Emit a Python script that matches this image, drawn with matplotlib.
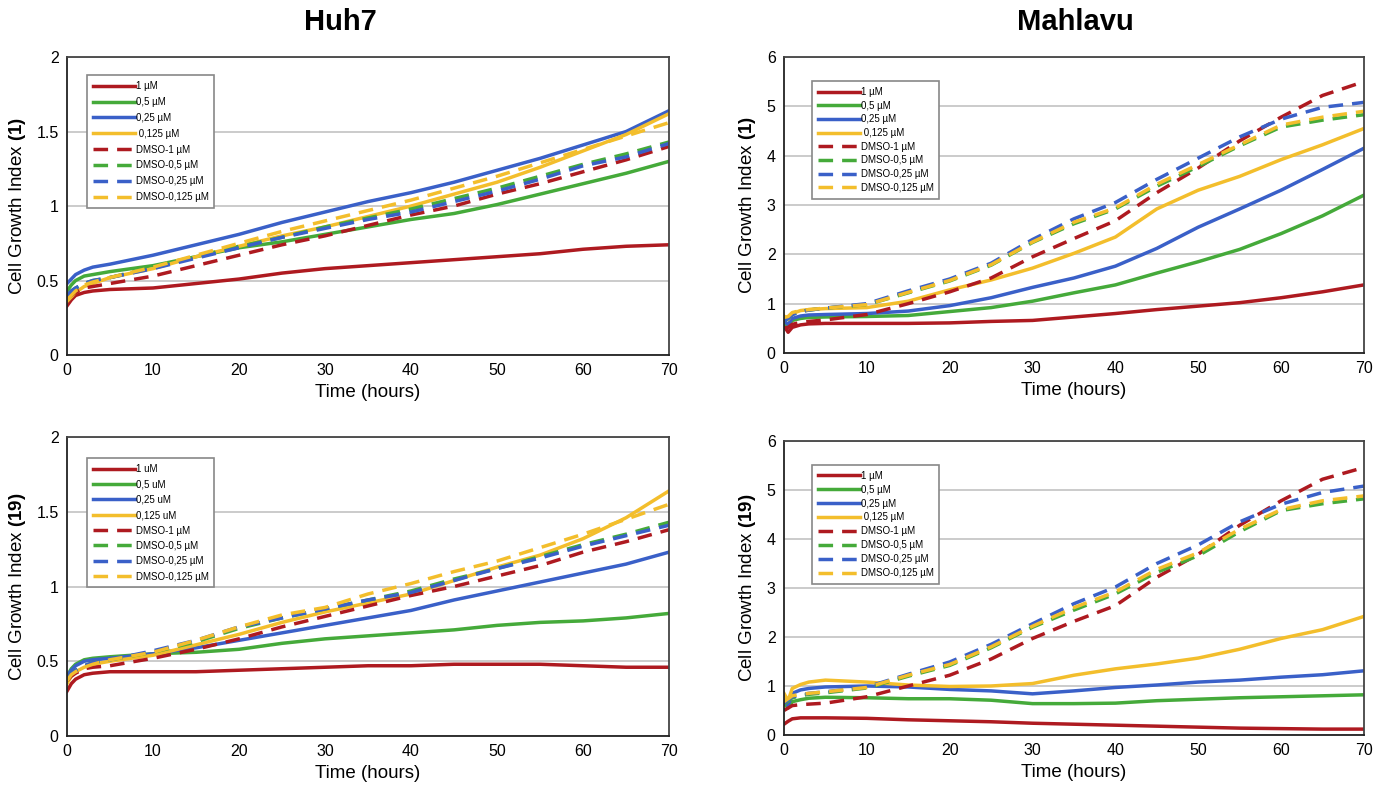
import matplotlib
matplotlib.use('Agg')
import matplotlib.pyplot as plt

plt.rcParams['font.family'] = ['Liberation Sans', 'DejaVu Sans']
plt.rcParams['mathtext.fontset'] = 'custom'
plt.rcParams['mathtext.bf'] = 'Liberation Sans:bold'
plt.rcParams['mathtext.rm'] = 'Liberation Sans'

time = [0, 0.5, 1, 2, 3, 5, 10, 15, 20, 25, 30, 35, 40, 45, 50, 55, 60, 65, 70]

# Huh7, compound (1)
h1_1 = [0.33, 0.37, 0.40, 0.42, 0.43, 0.44, 0.45, 0.48, 0.51, 0.55, 0.58, 0.60, 0.62, 0.64, 0.66, 0.68, 0.71, 0.73, 0.74]
h1_05 = [0.43, 0.47, 0.50, 0.53, 0.54, 0.56, 0.60, 0.66, 0.72, 0.76, 0.81, 0.86, 0.91, 0.95, 1.01, 1.08, 1.15, 1.22, 1.30]
h1_025 = [0.48, 0.51, 0.54, 0.57, 0.59, 0.61, 0.67, 0.74, 0.81, 0.89, 0.96, 1.03, 1.09, 1.16, 1.24, 1.32, 1.41, 1.50, 1.64]
h1_0125 = [0.36, 0.39, 0.42, 0.46, 0.48, 0.52, 0.58, 0.66, 0.73, 0.80, 0.86, 0.93, 1.00, 1.08, 1.16, 1.26, 1.37, 1.48, 1.62]
h1_d1 = [0.38, 0.40, 0.42, 0.45, 0.46, 0.48, 0.53, 0.60, 0.67, 0.74, 0.80, 0.87, 0.94, 1.00, 1.08, 1.15, 1.23, 1.31, 1.40]
h1_d05 = [0.40, 0.43, 0.45, 0.48, 0.50, 0.52, 0.59, 0.66, 0.73, 0.79, 0.86, 0.92, 0.98, 1.05, 1.12, 1.20, 1.28, 1.35, 1.43]
h1_d025 = [0.40, 0.43, 0.45, 0.48, 0.50, 0.52, 0.58, 0.65, 0.72, 0.79, 0.85, 0.91, 0.96, 1.03, 1.10, 1.18, 1.27, 1.33, 1.42]
h1_d0125 = [0.37, 0.40, 0.43, 0.47, 0.49, 0.52, 0.59, 0.67, 0.75, 0.83, 0.90, 0.97, 1.04, 1.12, 1.20, 1.29, 1.38, 1.47, 1.56]

# Mahlavu, compound (1)
m1_1 = [0.55, 0.42, 0.52, 0.57, 0.59, 0.60, 0.60, 0.60, 0.61, 0.64, 0.66, 0.73, 0.80, 0.88, 0.95, 1.02, 1.12, 1.24, 1.38]
m1_05 = [0.62, 0.55, 0.66, 0.70, 0.72, 0.73, 0.74, 0.76, 0.84, 0.92, 1.05, 1.22, 1.38, 1.62, 1.85, 2.10, 2.42, 2.78, 3.20]
m1_025 = [0.65, 0.58, 0.70, 0.75, 0.77, 0.78, 0.80, 0.85, 0.96, 1.12, 1.33, 1.52, 1.76, 2.12, 2.55, 2.92, 3.30, 3.72, 4.15]
m1_0125 = [0.75, 0.68, 0.80, 0.86, 0.88, 0.90, 0.92, 1.05, 1.28, 1.48, 1.72, 2.02, 2.35, 2.92, 3.30, 3.58, 3.92, 4.22, 4.55]
m1_d1 = [0.50, 0.52, 0.58, 0.62, 0.64, 0.67, 0.78, 1.00, 1.24, 1.52, 1.95, 2.32, 2.68, 3.25, 3.75, 4.30, 4.78, 5.22, 5.50]
m1_d05 = [0.65, 0.70, 0.78, 0.84, 0.87, 0.91, 0.98, 1.22, 1.46, 1.78, 2.24, 2.62, 2.92, 3.38, 3.78, 4.20, 4.58, 4.72, 4.83]
m1_d025 = [0.65, 0.70, 0.78, 0.84, 0.87, 0.91, 1.00, 1.26, 1.50, 1.82, 2.30, 2.72, 3.05, 3.52, 3.95, 4.38, 4.74, 4.98, 5.08]
m1_d0125 = [0.72, 0.74, 0.82, 0.86, 0.88, 0.91, 0.98, 1.23, 1.47, 1.79, 2.25, 2.65, 2.94, 3.42, 3.82, 4.22, 4.62, 4.78, 4.90]

# Huh7, compound (19)
h19_1 = [0.30, 0.35, 0.38, 0.41, 0.42, 0.43, 0.43, 0.43, 0.44, 0.45, 0.46, 0.47, 0.47, 0.48, 0.48, 0.48, 0.47, 0.46, 0.46]
h19_05 = [0.40, 0.45, 0.48, 0.51, 0.52, 0.53, 0.55, 0.56, 0.58, 0.62, 0.65, 0.67, 0.69, 0.71, 0.74, 0.76, 0.77, 0.79, 0.82]
h19_025 = [0.40, 0.44, 0.47, 0.50, 0.51, 0.52, 0.55, 0.59, 0.64, 0.69, 0.74, 0.79, 0.84, 0.91, 0.97, 1.03, 1.09, 1.15, 1.23]
h19_0125 = [0.35, 0.40, 0.43, 0.46, 0.48, 0.50, 0.54, 0.61, 0.68, 0.76, 0.83, 0.89, 0.95, 1.04, 1.13, 1.21, 1.32, 1.46, 1.64]
h19_d1 = [0.37, 0.40, 0.42, 0.45, 0.46, 0.47, 0.52, 0.58, 0.65, 0.73, 0.80, 0.87, 0.94, 1.00, 1.07, 1.14, 1.23, 1.30, 1.38]
h19_d05 = [0.38, 0.42, 0.44, 0.47, 0.49, 0.51, 0.56, 0.63, 0.72, 0.79, 0.85, 0.91, 0.97, 1.05, 1.12, 1.20, 1.28, 1.35, 1.43]
h19_d025 = [0.38, 0.42, 0.44, 0.47, 0.49, 0.51, 0.57, 0.64, 0.73, 0.79, 0.85, 0.91, 0.96, 1.04, 1.12, 1.19, 1.27, 1.34, 1.41]
h19_d0125 = [0.37, 0.41, 0.43, 0.46, 0.48, 0.51, 0.56, 0.64, 0.73, 0.81, 0.86, 0.95, 1.02, 1.10, 1.17, 1.26, 1.35, 1.45, 1.55]

# Mahlavu, compound (19)
m19_1 = [0.22, 0.28, 0.33, 0.35, 0.35, 0.35, 0.34, 0.31, 0.29, 0.27, 0.24, 0.22, 0.20, 0.18, 0.16, 0.14, 0.13, 0.12, 0.12]
m19_05 = [0.65, 0.55, 0.68, 0.72, 0.75, 0.77, 0.76, 0.74, 0.74, 0.71, 0.64, 0.64, 0.65, 0.70, 0.73, 0.76, 0.78, 0.80, 0.82]
m19_025 = [0.70, 0.60, 0.85, 0.92, 0.95, 0.98, 1.00, 0.98, 0.93, 0.90, 0.84, 0.90, 0.97, 1.02, 1.08, 1.12, 1.18, 1.23, 1.31]
m19_0125 = [0.85, 0.70, 0.95, 1.03, 1.08, 1.12, 1.08, 1.02, 0.99, 1.00, 1.05, 1.22, 1.35, 1.45, 1.57, 1.75, 1.97, 2.15, 2.42]
m19_d1 = [0.50, 0.55, 0.60, 0.62, 0.63, 0.65, 0.78, 1.00, 1.22, 1.55, 1.97, 2.32, 2.64, 3.22, 3.69, 4.28, 4.78, 5.22, 5.46]
m19_d05 = [0.62, 0.70, 0.76, 0.80, 0.83, 0.86, 0.96, 1.20, 1.42, 1.78, 2.20, 2.55, 2.88, 3.32, 3.66, 4.15, 4.58, 4.72, 4.82]
m19_d025 = [0.65, 0.72, 0.78, 0.82, 0.85, 0.88, 0.98, 1.24, 1.49, 1.85, 2.27, 2.68, 3.02, 3.50, 3.88, 4.35, 4.71, 4.95, 5.08]
m19_d0125 = [0.68, 0.74, 0.80, 0.83, 0.85, 0.88, 0.97, 1.22, 1.44, 1.80, 2.22, 2.60, 2.92, 3.38, 3.72, 4.20, 4.60, 4.78, 4.88]

labels_mu = ['1 µM', '0,5 µM', '0,25 µM', ' 0,125 µM',
             'DMSO-1 µM', 'DMSO-0,5 µM', 'DMSO-0,25 µM', 'DMSO-0,125 µM']
labels_u = ['1 uM', '0,5 uM', '0,25 uM', '0,125 uM',
            'DMSO-1 µM', 'DMSO-0,5 µM', 'DMSO-0,25 µM', 'DMSO-0,125 µM']

colors = ['#AE1A20', '#45AA3A', '#3A60C8', '#F3BE2C'] * 2
styles = ['-'] * 4 + ['--'] * 4

fig = plt.figure(figsize=(13.73, 7.86), dpi=100)

panels = [
    # rect, series, ymax, yticks, ylabel tag, labels, legend anchor, spacing
    ([0.0488, 0.5483, 0.4385, 0.3791],
     [h1_1, h1_05, h1_025, h1_0125, h1_d1, h1_d05, h1_d025, h1_d0125],
     2, [0, 0.5, 1, 1.5, 2], '(1)', labels_mu, (0.025, 0.955), 0.6),
    ([0.5710, 0.5509, 0.4224, 0.3766],
     [m1_1, m1_05, m1_025, m1_0125, m1_d1, m1_d05, m1_d025, m1_d0125],
     6, [0, 1, 2, 3, 4, 5, 6], '(1)', labels_mu, (0.04, 0.935), 0.38),
    ([0.0488, 0.0636, 0.4385, 0.3804],
     [h19_1, h19_05, h19_025, h19_0125, h19_d1, h19_d05, h19_d025, h19_d0125],
     2, [0, 0.5, 1, 1.5, 2], '(19)', labels_u, (0.025, 0.945), 0.55),
    ([0.5710, 0.0649, 0.4224, 0.3740],
     [m19_1, m19_05, m19_025, m19_0125, m19_d1, m19_d05, m19_d025, m19_d0125],
     6, [0, 1, 2, 3, 4, 5, 6], '(19)', labels_mu, (0.04, 0.935), 0.4),
]

for rect, series, ymax, yticks, tag, labels, anchor, spacing in panels:
    ax = fig.add_axes(rect)
    for vals, c, ls, lab in zip(series, colors, styles, labels):
        if ls == '--':
            ax.plot(time, vals, color=c, lw=2.5, linestyle=(0, (4.2, 2.6)), label=lab)
        else:
            ax.plot(time, vals, color=c, lw=2.5, label=lab)
    ax.set_xlim(0, 70)
    ax.set_ylim(0, ymax)
    ax.set_xticks(range(0, 71, 10))
    ax.set_yticks(yticks)
    ax.set_yticklabels([('%g' % v) for v in yticks])
    ax.yaxis.grid(True, color='#BDBDBD', lw=1.1)
    ax.set_axisbelow(True)
    ax.tick_params(length=0, labelsize=11.5, pad=6)
    for side in ['top', 'right']:
        ax.spines[side].set_color('#444444')
        ax.spines[side].set_linewidth(1.3)
    for side in ['left', 'bottom']:
        ax.spines[side].set_color('#222222')
        ax.spines[side].set_linewidth(1.3)
    ax.set_xlabel('Time (hours)', fontsize=13.5, labelpad=4)
    ax.set_ylabel('Cell Growth Index $\\bf{' + tag + '}$', fontsize=13.5, labelpad=6)
    leg = ax.legend(loc='upper left', bbox_to_anchor=anchor, fontsize=7,
                    handlelength=4.3, handletextpad=0.1, labelspacing=spacing,
                    borderpad=0.6, fancybox=False, framealpha=1)
    leg.get_frame().set_edgecolor('#888888')
    leg.get_frame().set_linewidth(1.2)

fig.text(0.248, 0.972, 'Huh7', fontsize=21, fontweight='bold', ha='center', va='center')
fig.text(0.783, 0.972, 'Mahlavu', fontsize=21, fontweight='bold', ha='center', va='center')

fig.savefig('out.png', dpi=100)
